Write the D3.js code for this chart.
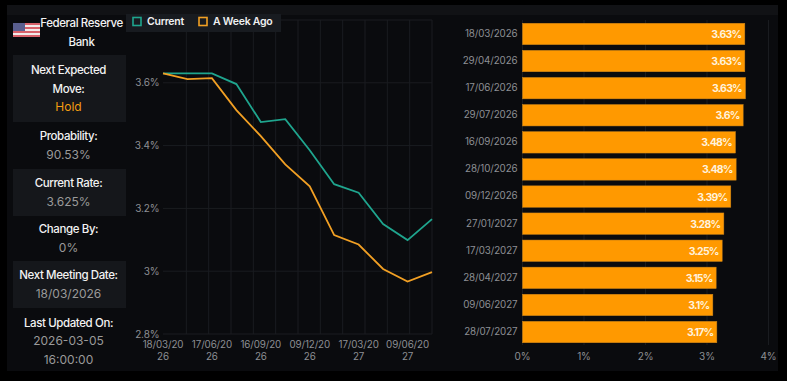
<!DOCTYPE html>
<html>
<head>
<meta charset="utf-8">
<script src="https://cdn.jsdelivr.net/npm/d3@7"></script>
<style>
  html, body { margin: 0; padding: 0; background: #000; }
  svg { display: block; }
  text { font-family: Inter, "Noto Sans", sans-serif; }
</style>
</head>
<body>
<svg id="chart" width="787" height="381"></svg>
<script>
"use strict";

// Meeting dates
var meetingDates = ["18/03/2026", "29/04/2026", "17/06/2026", "29/07/2026", "16/09/2026", "28/10/2026",
    "09/12/2026", "27/01/2027", "17/03/2027", "28/04/2027", "09/06/2027", "28/07/2027"];

// Line series
var currentRates = [3.63, 3.63, 3.63, 3.596, 3.475, 3.484, 3.385, 3.277, 3.25, 3.15, 3.099, 3.166];
var weekAgoRates = [3.63, 3.612, 3.615, 3.513, 3.43, 3.34, 3.27, 3.115, 3.085, 3.007, 2.967, 2.997];

// Bars
var barValues = [3.615, 3.615, 3.626, 3.588, 3.463, 3.474, 3.387, 3.274, 3.247, 3.149, 3.095, 3.16];
var barLabels = ["3.63%", "3.63%", "3.63%", "3.6%", "3.48%", "3.48%", "3.39%", "3.28%", "3.25%", "3.15%", "3.1%", "3.17%"];

var rateTicks = [2.8, 3, 3.2, 3.4, 3.6];
var percentTicks = [0, 1, 2, 3, 4];

// Sidebar rows
var sideRows = [
    { lines: ["Next Expected", "Move:"], value: ["Hold"], top: 55, bottom: 122, shaded: true, orange: true },
    { lines: ["Probability:"], value: ["90.53%"], top: 122, bottom: 169, shaded: false },
    { lines: ["Current Rate:"], value: ["3.625%"], top: 169, bottom: 216, shaded: true },
    { lines: ["Change By:"], value: ["0%"], top: 216, bottom: 261, shaded: false },
    { lines: ["Next Meeting Date:"], value: ["18/03/2026"], top: 261, bottom: 308, shaded: true },
    { lines: ["Last Updated On:"], value: ["2026-03-05", "16:00:00"], top: 308, bottom: 374, shaded: false }
];

var green = "#1fa58e",
    orange = "#f2a024",
    barOrange = "#ff9900",
    gridColor = "#1a1c20",
    axisText = "#8d8f94";

var svg = d3.select("#chart");

// Panel background
svg.append("rect").attr("x", 7).attr("y", 5).attr("width", 771).attr("height", 366).attr("fill", "#0a0b0e");
svg.append("rect").attr("x", 7).attr("y", 5).attr("width", 771).attr("height", 10).attr("fill", "#111215");

// Line chart
var lineX = d3.scalePoint().domain(meetingDates).range([163, 432]);
var lineY = d3.scaleLinear().domain([2.8, 3.8]).range([334, 20]);
var gridX = d3.scaleLinear().domain([0, 12]).range([164, 432]);

var lineGrid = svg.append("g");
lineGrid.selectAll("line.v").data(d3.range(1, 13)).enter().append("line")
    .attr("class", "v")
    .attr("x1", gridX).attr("x2", gridX)
    .attr("y1", lineY(3.8)).attr("y2", lineY(2.8))
    .attr("stroke", gridColor);
lineGrid.selectAll("line.h").data(rateTicks.concat([3.8])).enter().append("line")
    .attr("class", "h")
    .attr("x1", 163).attr("x2", 432)
    .attr("y1", lineY).attr("y2", lineY)
    .attr("stroke", gridColor);

svg.append("g").selectAll("text").data(rateTicks).enter().append("text")
    .attr("x", 159.5)
    .attr("y", lineY)
    .attr("dy", "0.35em")
    .attr("text-anchor", "end")
    .attr("font-size", 10)
    .attr("letter-spacing", -0.1)
    .attr("fill", axisText)
    .text(function(d) { return d + "%"; });

// every second date gets a label, wrapped like the original
var xLabels = svg.append("g").selectAll("text")
    .data(meetingDates.filter(function(d, i) { return i % 2 === 0; }))
    .enter().append("text")
    .attr("text-anchor", "middle")
    .attr("font-size", 9.8)
    .attr("letter-spacing", -0.1)
    .attr("fill", axisText);
xLabels.append("tspan").attr("x", lineX).attr("y", 344.7).attr("dy", "0.35em")
    .text(function(d) { return d.slice(0, 8); });
xLabels.append("tspan").attr("x", lineX).attr("y", 356.7).attr("dy", "0.35em")
    .text(function(d) { return d.slice(8); });

var line = d3.line()
    .x(function(d, i) { return lineX(meetingDates[i]); })
    .y(function(d) { return lineY(d); });

svg.append("path").datum(currentRates).attr("d", line)
    .attr("fill", "none").attr("stroke", green).attr("stroke-width", 1.8);
svg.append("path").datum(weekAgoRates).attr("d", line)
    .attr("fill", "none").attr("stroke", orange).attr("stroke-width", 1.8);

// Legend
svg.append("rect").attr("x", 126).attr("y", 14).attr("width", 155).attr("height", 18).attr("fill", "#181b20");
var legendItems = [
    { name: "Current", color: green, box: 133, label: 147 },
    { name: "A Week Ago", color: orange, box: 199, label: 213 }
];
legendItems.forEach(function(d) {
    svg.append("rect").attr("x", d.box).attr("y", 17.5).attr("width", 8).attr("height", 8)
        .attr("fill", "none").attr("stroke", d.color).attr("stroke-width", 1.6);
    svg.append("text").attr("x", d.label).attr("y", 21).attr("dy", "0.35em")
        .attr("font-size", 10.5).attr("font-weight", 600).attr("letter-spacing", -0.25)
        .attr("fill", "#f0f0f0").text(d.name);
});

// Bar chart
var barX = d3.scaleLinear().domain([0, 4]).range([522.5, 768.5]);
var barY = d3.scaleBand().domain(meetingDates).range([20.4, 345.6]).paddingInner(0.21).paddingOuter(0.105);

svg.append("g").selectAll("line").data(percentTicks).enter().append("line")
    .attr("x1", barX).attr("x2", barX)
    .attr("y1", 20).attr("y2", 345)
    .attr("stroke", gridColor);

svg.append("g").selectAll("rect").data(barValues).enter().append("rect")
    .attr("x", barX(0))
    .attr("y", function(d, i) { return barY(meetingDates[i]); })
    .attr("width", function(d) { return barX(d) - barX(0); })
    .attr("height", barY.bandwidth())
    .attr("fill", barOrange)
    .attr("stroke", "#c9831a")
    .attr("stroke-width", 0.5);

svg.append("g").selectAll("text").data(barValues).enter().append("text")
    .attr("x", function(d) { return barX(d) - 3.5; })
    .attr("y", function(d, i) { return barY(meetingDates[i]) + barY.bandwidth() / 2; })
    .attr("dy", "0.38em")
    .attr("text-anchor", "end")
    .attr("font-size", 10.5)
    .attr("font-weight", 700)
    .attr("letter-spacing", -0.8)
    .attr("fill", "#fff2dc")
    .text(function(d, i) { return barLabels[i]; });

svg.append("g").selectAll("text").data(meetingDates).enter().append("text")
    .attr("x", 517.5)
    .attr("y", function(d) { return barY(d) + barY.bandwidth() / 2; })
    .attr("dy", "0.3em")
    .attr("text-anchor", "end")
    .attr("font-size", 9.8)
    .attr("letter-spacing", -0.1)
    .attr("fill", axisText)
    .text(function(d) { return d; });

svg.append("g").selectAll("text").data(percentTicks).enter().append("text")
    .attr("x", barX)
    .attr("y", 356)
    .attr("dy", "0.35em")
    .attr("text-anchor", "middle")
    .attr("font-size", 10)
    .attr("letter-spacing", -0.1)
    .attr("fill", axisText)
    .text(function(d) { return d + "%"; });

// Sidebar
var sideX = 68.5, rowStep = 18.5;

sideRows.forEach(function(row) {
    if (row.shaded) {
        svg.append("rect").attr("x", 13).attr("y", row.top)
            .attr("width", 113).attr("height", row.bottom - row.top).attr("fill", "#15171b");
    }
    var all = row.lines.concat(row.value);
    var startY = (row.top + row.bottom) / 2 - (all.length - 1) * rowStep / 2;
    all.forEach(function(txt, i) {
        var isValue = i >= row.lines.length;
        svg.append("text")
            .attr("x", sideX)
            .attr("y", startY + i * rowStep)
            .attr("dy", "0.35em")
            .attr("text-anchor", "middle")
            .attr("font-size", isValue ? 12 : 11.5)
            .attr("font-weight", isValue ? 400 : 500)
            .attr("letter-spacing", isValue ? 0 : -0.4)
            .attr("fill", isValue ? (row.orange ? "#f39c12" : "#9a9a9a") : "#f2f2f2")
            .text(txt);
    });
});

svg.append("text").attr("x", 81.5).attr("y", 23).attr("dy", "0.35em").attr("text-anchor", "middle")
    .attr("font-size", 11.5).attr("font-weight", 500).attr("letter-spacing", -0.4)
    .attr("fill", "#f2f2f2").text("Federal Reserve");
svg.append("text").attr("x", 81.5).attr("y", 42).attr("dy", "0.35em").attr("text-anchor", "middle")
    .attr("font-size", 11.5).attr("font-weight", 500).attr("letter-spacing", -0.4)
    .attr("fill", "#f2f2f2").text("Bank");

// US flag
var flag = svg.append("g");
d3.range(7).forEach(function(i) {
    flag.append("rect").attr("x", 13).attr("y", 23 + i * 2)
        .attr("width", 27).attr("height", 2)
        .attr("fill", i % 2 === 0 ? "#d9616a" : "#f3e9e9");
});
flag.append("rect").attr("x", 13).attr("y", 23).attr("width", 12).attr("height", 8).attr("fill", "#5a5f8f");
</script>
</body>
</html>
